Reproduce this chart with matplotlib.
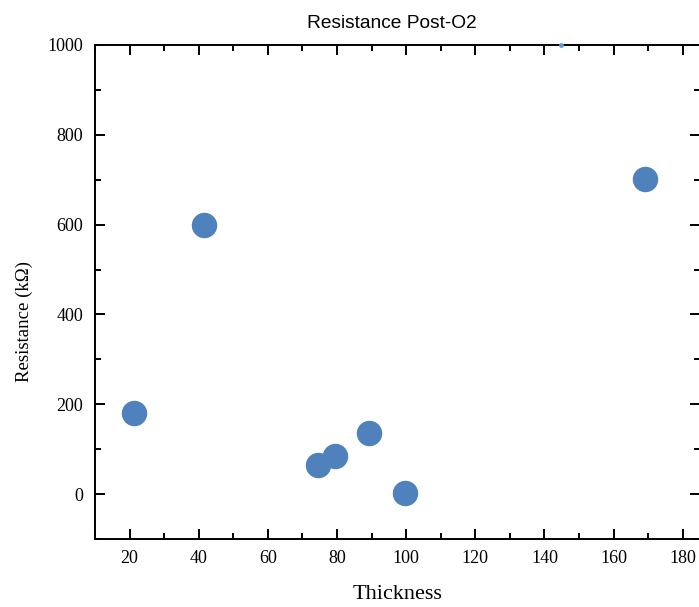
import numpy as np
import matplotlib.pyplot as plt
from matplotlib.ticker import MultipleLocator

# Tykkelse og motstand (lest av bildet)
thickness = np.array([21.4, 41.6, 74.5, 79.4, 89.2, 99.6, 169.0])
resistance = np.array([180, 599, 65, 85, 136, 2, 702])

# liten prikk helt i toppen
extra_x = [144.8]
extra_y = [1000]

fig = plt.figure(figsize=(6.99, 6.07), dpi=100)
ax = fig.add_axes([0.1359, 0.112, 0.8655, 0.8139])

ax.scatter(thickness, resistance, s=300, color='#4f81bd', zorder=3, clip_on=False)
ax.scatter(extra_x, extra_y, s=6, color='#5b9bd5', zorder=3, clip_on=False)

ax.set_xlim(10, 185)
ax.set_ylim(-100, 1000)
ax.xaxis.set_minor_locator(MultipleLocator(10))
ax.yaxis.set_minor_locator(MultipleLocator(100))
ax.set_xticks(np.arange(20, 181, 20))
ax.set_yticks(np.arange(0, 1001, 200))

for s in ax.spines.values():
    s.set_linewidth(1.4)
ax.tick_params(which='both', direction='in', top=True, right=True, width=1.4)
ax.tick_params(which='major', length=7)
ax.tick_params(which='minor', length=4)
ax.tick_params(axis='x', which='major', pad=8)
ax.tick_params(axis='y', which='major', pad=8.5)

for lab in ax.get_xticklabels() + ax.get_yticklabels():
    lab.set_family('Liberation Serif')
    lab.set_fontsize(13)

ax.set_xlabel('Thickness', family='Liberation Serif', fontsize=16, labelpad=13)
ax.set_ylabel('Resistance (k\u03a9)', family='Liberation Serif', fontsize=13.5)
ax.yaxis.set_label_coords(-0.103, 0.44)
ax.set_title('Resistance Post-O2', family='Liberation Sans', fontsize=13.8, pad=12, x=0.49)

fig.savefig('out.png', dpi=100)
